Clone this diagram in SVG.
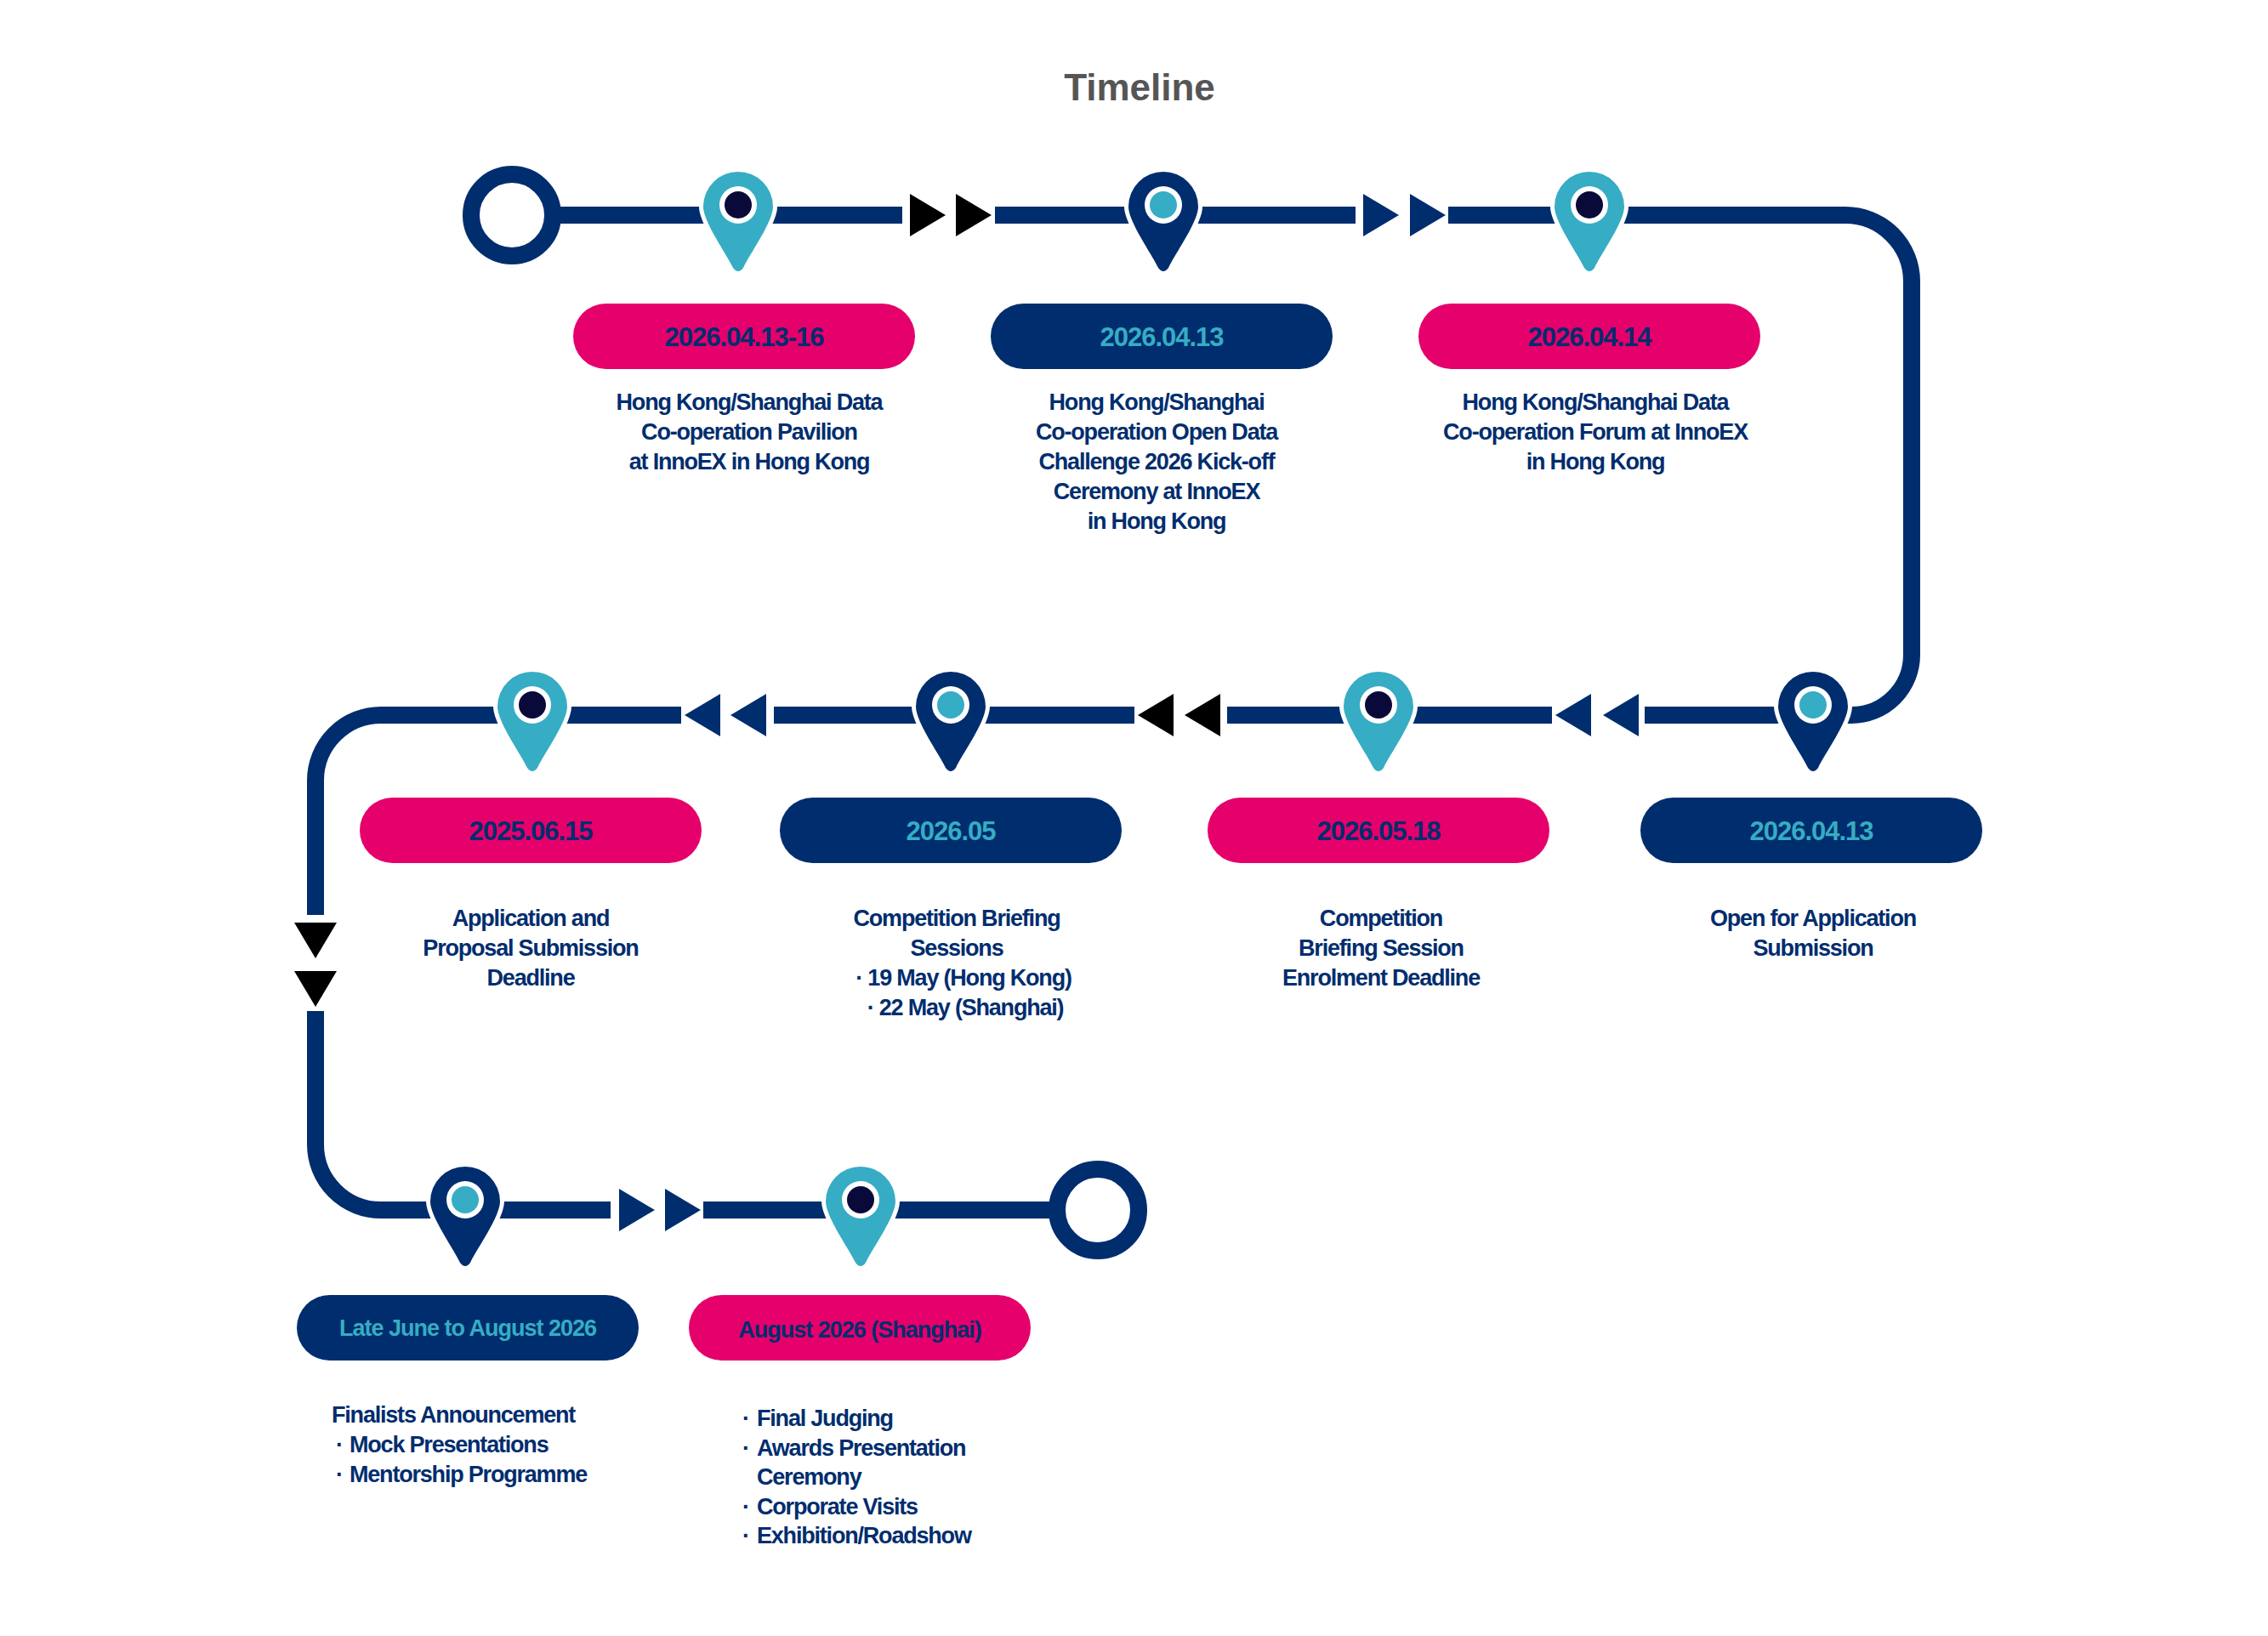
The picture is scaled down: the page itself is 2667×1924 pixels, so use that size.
<svg xmlns="http://www.w3.org/2000/svg" width="2667" height="1924" viewBox="0 0 2667 1924">
<style>
.ln{fill:none;stroke:#002D6E;stroke-width:20}
.ring{fill:#fff;stroke:#002D6E;stroke-width:20}
.pn{fill:#002D6E;stroke:#fff;stroke-width:10;paint-order:stroke}
.pt{fill:#36ADC4;stroke:#fff;stroke-width:10;paint-order:stroke}
.gap{fill:#fff}
.an{fill:#002D6E}
.ab{fill:#000}
.pill-p{fill:#E5006B}
.pill-n{fill:#002D6E}
.dt{font-family:"Liberation Sans",Arial,sans-serif;font-weight:bold;font-size:31px;letter-spacing:-1px;text-anchor:middle}
.dn{fill:#002D6E}
.dtl{fill:#36ADC4}
.tx{font-family:"Liberation Sans",Arial,sans-serif;font-weight:bold;font-size:27px;letter-spacing:-1.2px;fill:#002D6E}
.c{text-anchor:middle}
</style>
<defs>
<path id="pin" d="M -41 0 A 41 41 0 1 1 41 0 C 41 18 14 55 6 72 Q 0 80 -6 72 C -14 55 -41 18 -41 0 Z"/>
<path id="tri" d="M -21 -25 L 21 0 L -21 25 Z"/>
</defs>
<text x="1340" y="118" font-family="Liberation Sans,Arial,sans-serif" font-weight="bold" font-size="44" fill="#555" text-anchor="middle">Timeline</text>
<g id="connectors">
<path class="ln" d="M 602 253 H 2170 A 78 78 0 0 1 2248 331 V 770 A 71 71 0 0 1 2177 841 H 448 A 77 77 0 0 0 371 918 V 1346 A 77 77 0 0 0 448 1423 H 1291"/>
<rect class="gap" x="1061" y="240" width="109" height="26"/>
<use href="#tri" class="ab" transform="translate(1091,253)"/>
<use href="#tri" class="ab" transform="translate(1145,253)"/>
<rect class="gap" x="1594" y="240" width="109" height="26"/>
<use href="#tri" class="an" transform="translate(1624,253)"/>
<use href="#tri" class="an" transform="translate(1679,253)"/>
<rect class="gap" x="1825" y="828" width="109" height="26"/>
<use href="#tri" class="an" transform="translate(1850,841) scale(-1,1)"/>
<use href="#tri" class="an" transform="translate(1906,841) scale(-1,1)"/>
<rect class="gap" x="1334" y="828" width="109" height="26"/>
<use href="#tri" class="ab" transform="translate(1359,841) scale(-1,1)"/>
<use href="#tri" class="ab" transform="translate(1414,841) scale(-1,1)"/>
<rect class="gap" x="801" y="828" width="109" height="26"/>
<use href="#tri" class="an" transform="translate(826,841) scale(-1,1)"/>
<use href="#tri" class="an" transform="translate(880,841) scale(-1,1)"/>
<rect class="gap" x="358" y="1076" width="26" height="113"/>
<use href="#tri" class="ab" transform="translate(371,1106) rotate(90)"/>
<use href="#tri" class="ab" transform="translate(371,1163) rotate(90)"/>
<rect class="gap" x="718" y="1410" width="109" height="26"/>
<use href="#tri" class="an" transform="translate(749,1423)"/>
<use href="#tri" class="an" transform="translate(803,1423)"/>
</g>
<g id="start"><circle class="ring" cx="602" cy="253" r="48"/></g>
<g id="end"><circle class="ring" cx="1291" cy="1423" r="48"/></g>

<g id="n1">
<g transform="translate(868,243)"><use href="#pin" class="pt"/><circle cy="-2" r="22" fill="#fff"/><circle cy="-2" r="16" fill="#0A0A3A"/></g>
<rect class="pill-p" x="674" y="357" width="402" height="77" rx="38.5"/>
<text class="dt dn" x="875" y="407">2026.04.13-16</text>
<text class="tx c" x="881"><tspan x="881" y="482">Hong Kong/Shanghai Data</tspan><tspan x="881" y="517">Co-operation Pavilion</tspan><tspan x="881" y="552">at InnoEX in Hong Kong</tspan></text>
</g>
<g id="n2">
<g transform="translate(1368,243)"><use href="#pin" class="pn"/><circle cy="-2" r="22" fill="#fff"/><circle cy="-2" r="16" fill="#36ADC4"/></g>
<rect class="pill-n" x="1165" y="357" width="402" height="77" rx="38.5"/>
<text class="dt dtl" x="1366" y="407">2026.04.13</text>
<text class="tx c"><tspan x="1360" y="482">Hong Kong/Shanghai</tspan><tspan x="1360" y="517">Co-operation Open Data</tspan><tspan x="1360" y="552">Challenge 2026 Kick-off</tspan><tspan x="1360" y="587">Ceremony at InnoEX</tspan><tspan x="1360" y="622">in Hong Kong</tspan></text>
</g>
<g id="n3">
<g transform="translate(1869,243)"><use href="#pin" class="pt"/><circle cy="-2" r="22" fill="#fff"/><circle cy="-2" r="16" fill="#0A0A3A"/></g>
<rect class="pill-p" x="1668" y="357" width="402" height="77" rx="38.5"/>
<text class="dt dn" x="1869" y="407">2026.04.14</text>
<text class="tx c"><tspan x="1876" y="482">Hong Kong/Shanghai Data</tspan><tspan x="1876" y="517">Co-operation Forum at InnoEX</tspan><tspan x="1876" y="552">in Hong Kong</tspan></text>
</g>
<g id="n4">
<g transform="translate(2132,831)"><use href="#pin" class="pn"/><circle cy="-2" r="22" fill="#fff"/><circle cy="-2" r="16" fill="#36ADC4"/></g>
<rect class="pill-n" x="1929" y="938" width="402" height="77" rx="38.5"/>
<text class="dt dtl" x="2130" y="988">2026.04.13</text>
<text class="tx c"><tspan x="2132" y="1089">Open for Application</tspan><tspan x="2132" y="1124">Submission</tspan></text>
</g>
<g id="n5">
<g transform="translate(1621,831)"><use href="#pin" class="pt"/><circle cy="-2" r="22" fill="#fff"/><circle cy="-2" r="16" fill="#0A0A3A"/></g>
<rect class="pill-p" x="1420" y="938" width="402" height="77" rx="38.5"/>
<text class="dt dn" x="1621" y="988">2026.05.18</text>
<text class="tx c"><tspan x="1624" y="1089">Competition</tspan><tspan x="1624" y="1124">Briefing Session</tspan><tspan x="1624" y="1159">Enrolment Deadline</tspan></text>
</g>
<g id="n6">
<g transform="translate(1118,831)"><use href="#pin" class="pn"/><circle cy="-2" r="22" fill="#fff"/><circle cy="-2" r="16" fill="#36ADC4"/></g>
<rect class="pill-n" x="917" y="938" width="402" height="77" rx="38.5"/>
<text class="dt dtl" x="1118" y="988">2026.05</text>
<text class="tx c"><tspan x="1125" y="1089">Competition Briefing</tspan><tspan x="1125" y="1124">Sessions</tspan><tspan x="1133" y="1159">· 19 May (Hong Kong)</tspan><tspan x="1135" y="1194">· 22 May (Shanghai)</tspan></text>
</g>
<g id="n7">
<g transform="translate(626,831)"><use href="#pin" class="pt"/><circle cy="-2" r="22" fill="#fff"/><circle cy="-2" r="16" fill="#0A0A3A"/></g>
<rect class="pill-p" x="423" y="938" width="402" height="77" rx="38.5"/>
<text class="dt dn" x="624" y="988">2025.06.15</text>
<text class="tx c"><tspan x="624" y="1089">Application and</tspan><tspan x="624" y="1124">Proposal Submission</tspan><tspan x="624" y="1159">Deadline</tspan></text>
</g>
<g id="n8">
<g transform="translate(547,1413)"><use href="#pin" class="pn"/><circle cy="-2" r="22" fill="#fff"/><circle cy="-2" r="16" fill="#36ADC4"/></g>
<rect class="pill-n" x="349" y="1523" width="402" height="77" rx="38.5"/>
<text class="dt dtl" x="550" y="1571" style="font-size:27px">Late June to August 2026</text>
<text class="tx"><tspan x="390" y="1673">Finalists Announcement</tspan><tspan x="395" y="1708">·</tspan><tspan x="411" y="1708">Mock Presentations</tspan><tspan x="395" y="1743">·</tspan><tspan x="411" y="1743">Mentorship Programme</tspan></text>
</g>
<g id="n9">
<g transform="translate(1012,1413)"><use href="#pin" class="pt"/><circle cy="-2" r="22" fill="#fff"/><circle cy="-2" r="16" fill="#0A0A3A"/></g>
<rect class="pill-p" x="810" y="1523" width="402" height="77" rx="38.5"/>
<text class="dt dn" x="1011" y="1573" style="font-size:27px">August 2026 (Shanghai)</text>
<text class="tx"><tspan x="873" y="1677">·</tspan><tspan x="890" y="1677">Final Judging</tspan><tspan x="873" y="1712">·</tspan><tspan x="890" y="1712">Awards Presentation</tspan><tspan x="890" y="1746">Ceremony</tspan><tspan x="873" y="1781">·</tspan><tspan x="890" y="1781">Corporate Visits</tspan><tspan x="873" y="1815">·</tspan><tspan x="890" y="1815">Exhibition/Roadshow</tspan></text>
</g>
</svg>
